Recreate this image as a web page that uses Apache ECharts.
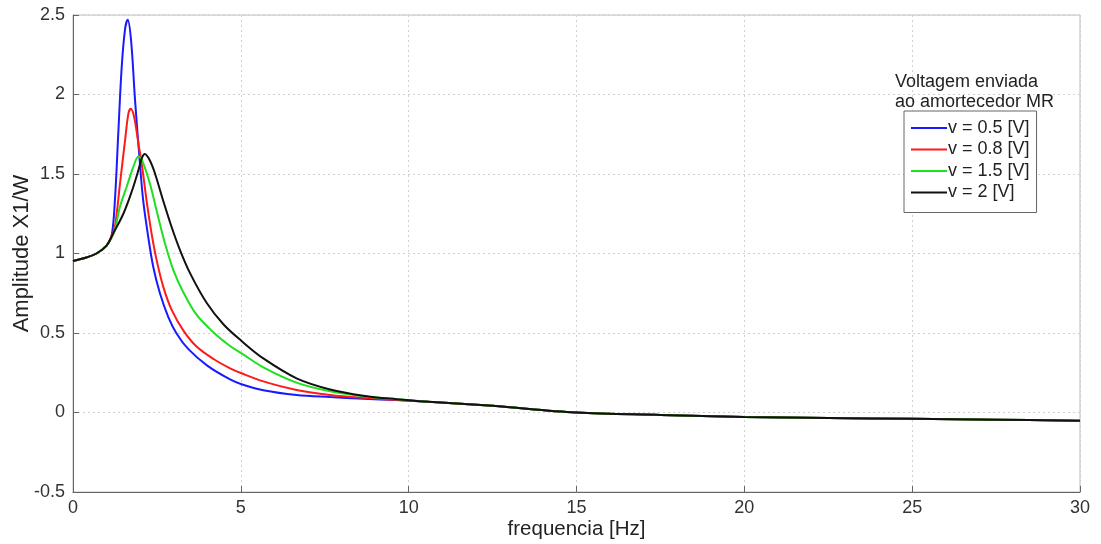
<!DOCTYPE html>
<html>
<head>
<meta charset="utf-8">
<script src="https://cdn.jsdelivr.net/npm/echarts@6/dist/echarts.min.js"></script>
<style>
html,body{margin:0;padding:0;background:#fff;}
#chart{width:1101px;height:544px;}
</style>
</head>
<body>
<div id="chart"></div>
<script>
// ---- data ----
const seriesNames = ['v = 0.5 [V]', 'v = 0.8 [V]', 'v = 1.5 [V]', 'v = 2 [V]'];
const legendTitle = 'Voltagem enviada\nao amortecedor MR';
const xTicks = [0, 5, 10, 15, 20, 25, 30];
const yTicks = [-0.5, 0, 0.5, 1, 1.5, 2, 2.5];

// shared high-frequency tail (all curves merge)
const tailFreq = [12.5, 15, 17.5, 20, 22.5, 25, 27.5, 30];
const tailAmp  = [0.042, 0.0, -0.015, -0.028, -0.035, -0.040, -0.045, -0.052];

const freq05 = [0, 0.4, 0.7, 1.0, 1.15, 1.25, 1.35, 1.45, 1.55, 1.63, 1.73, 1.85, 2.0, 2.09, 2.24, 2.39, 2.59, 2.84, 3.09, 3.43, 4.0, 4.68, 5.02, 5.67, 6.66, 7.66, 8.65, 9.64, 10.6];
const amp05  = [0.953, 0.975, 1.0, 1.05, 1.11, 1.34, 1.76, 2.17, 2.41, 2.47, 2.34, 1.96, 1.55, 1.336, 1.106, 0.917, 0.75, 0.60, 0.495, 0.40, 0.295, 0.208, 0.178, 0.14, 0.11, 0.097, 0.087, 0.078, 0.068];

const freq08 = [0, 0.4, 0.7, 1.0, 1.15, 1.25, 1.4, 1.55, 1.65, 1.72, 1.82, 1.95, 2.05, 2.19, 2.34, 2.49, 2.69, 2.94, 3.29, 3.68, 4.2, 4.68, 5.02, 5.67, 6.66, 7.66, 8.65, 9.64, 10.6];
const amp08  = [0.953, 0.975, 1.0, 1.05, 1.11, 1.17, 1.44, 1.71, 1.88, 1.91, 1.86, 1.69, 1.56, 1.336, 1.127, 0.96, 0.79, 0.645, 0.515, 0.415, 0.335, 0.278, 0.247, 0.196, 0.142, 0.11, 0.092, 0.08, 0.068];

const freq15 = [0, 0.4, 0.7, 1.0, 1.15, 1.25, 1.4, 1.6, 1.8, 1.95, 2.05, 2.29, 2.49, 2.74, 2.99, 3.29, 3.68, 4.18, 4.68, 5.02, 5.67, 6.66, 7.66, 8.65, 9.64, 10.6];
const amp15  = [0.953, 0.975, 1.0, 1.05, 1.1, 1.15, 1.295, 1.42, 1.546, 1.61, 1.59, 1.44, 1.27, 1.064, 0.896, 0.755, 0.615, 0.505, 0.418, 0.372, 0.284, 0.188, 0.133, 0.102, 0.083, 0.068];

const freq20 = [0, 0.4, 0.7, 1.0, 1.2, 1.5, 1.75, 1.95, 2.05, 2.14, 2.29, 2.44, 2.69, 2.94, 3.19, 3.49, 3.98, 4.48, 5.02, 5.67, 6.66, 7.66, 8.65, 9.64, 10.6];
const amp20  = [0.953, 0.975, 1.0, 1.05, 1.127, 1.25, 1.39, 1.525, 1.60, 1.626, 1.585, 1.505, 1.33, 1.165, 1.02, 0.875, 0.69, 0.555, 0.45, 0.34, 0.215, 0.145, 0.106, 0.084, 0.068];

const colors = ['#1a1aff', '#ff1a1a', '#1fe01f', '#111111'];

// ---- build ----
function pairs(f, a) {
  const out = f.map((x, i) => [x, a[i]]);
  tailFreq.forEach((x, i) => out.push([x, tailAmp[i]]));
  return out;
}
const allFreq = [freq05, freq08, freq15, freq20];
const allAmp = [amp05, amp08, amp15, amp20];

const FONT = '"Liberation Sans", Arial, sans-serif';
const chart = echarts.init(document.getElementById('chart'), null, {renderer: 'canvas'});
chart.setOption({
  animation: false,
  backgroundColor: '#ffffff',
  color: colors,
  title: {
    text: legendTitle,
    left: 895, top: 72, padding: 0,
    textStyle: {fontFamily: FONT, fontSize: 18, fontWeight: 'normal', color: '#222', lineHeight: 20}
  },
  legend: {
    data: seriesNames,
    orient: 'vertical',
    left: 904, top: 111,
    padding: [8, 7, 11, 7],
    icon: 'rect',
    itemWidth: 36, itemHeight: 2, itemGap: 3.5,
    borderColor: '#666', borderWidth: 1,
    backgroundColor: '#fff',
    textStyle: {fontFamily: FONT, fontSize: 18, lineHeight: 18, color: '#222', padding: [0, 0, 0, -4]}
  },
  grid: {
    left: 73, right: 21, top: 15, bottom: 52,
    containLabel: false, outerBoundsMode: 'none',
    show: true, borderColor: '#bbb', borderWidth: 1, backgroundColor: 'transparent'
  },
  xAxis: {
    type: 'value', min: xTicks[0], max: xTicks[xTicks.length - 1], interval: 5,
    name: 'frequencia [Hz]', nameLocation: 'middle', nameGap: 27, nameMoveOverlap: false,
    nameTextStyle: {fontFamily: FONT, fontSize: 20.5, color: '#222'},
    axisLine: {show: true, onZero: false, lineStyle: {color: '#666', width: 1}},
    axisTick: {show: true, inside: true, length: 6, lineStyle: {color: '#666'}},
    axisLabel: {fontFamily: FONT, fontSize: 18, color: '#333', margin: 7},
    splitLine: {show: true, lineStyle: {color: '#d0d0d0', type: [2, 3], width: 1}}
  },
  yAxis: {
    type: 'value', min: yTicks[0], max: yTicks[yTicks.length - 1], interval: 0.5,
    name: 'Amplitude X1/W', nameLocation: 'middle', nameGap: 40, nameMoveOverlap: false,
    nameTextStyle: {fontFamily: FONT, fontSize: 22, color: '#222'},
    axisLine: {show: true, onZero: false, lineStyle: {color: '#666', width: 1}},
    axisTick: {show: true, inside: true, length: 6, lineStyle: {color: '#666'}},
    axisLabel: {fontFamily: FONT, fontSize: 18, color: '#333', margin: 8},
    splitLine: {show: true, lineStyle: {color: '#d0d0d0', type: [2, 3], width: 1}}
  },
  series: seriesNames.map((n, i) => ({
    name: n,
    type: 'line',
    data: pairs(allFreq[i], allAmp[i]),
    symbol: 'none',
    smooth: 0.35,
    lineStyle: {width: 2, color: colors[i]},
    itemStyle: {color: colors[i]}
  }))
});
</script>
</body>
</html>
